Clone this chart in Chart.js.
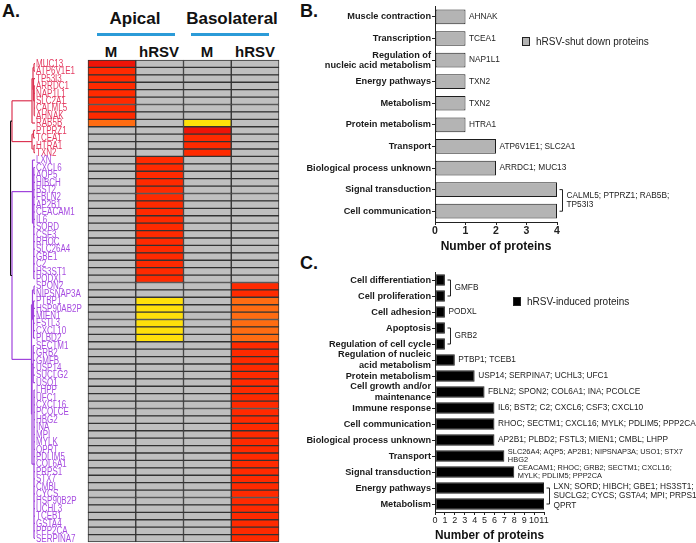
<!DOCTYPE html>
<html>
<head>
<meta charset="utf-8">
<script src="https://cdn.jsdelivr.net/npm/chart.js@4.4.1/dist/chart.umd.min.js"></script>
<style>
  html, body { margin: 0; padding: 0; background: #fff; }
  body { width: 696px; height: 543px; position: relative; overflow: hidden;
         font-family: 'Liberation Sans', Arial, sans-serif; color: #111; }
  .panel { position: absolute; font-weight: bold; font-size: 18px; line-height: 20px; }
  .head { position: absolute; font-weight: bold; text-align: center; white-space: nowrap; }
  .rule { position: absolute; height: 3px; background: #2b9bd8; }
  .key { position: absolute; width: 8px; height: 9px; box-sizing: border-box; border: 1px solid #222; }
  .keytext { position: absolute; font-size: 10px; line-height: 12px; white-space: nowrap; color: #222; }
  canvas { position: absolute; display: block; }
</style>
</head>
<body>
<div class="panel" style="left:2px;top:1px;">A.</div>
<div class="panel" style="left:300px;top:1px;">B.</div>
<div class="panel" style="left:300px;top:253px;">C.</div>

<div class="head" style="left:85px;top:9px;width:100px;font-size:17px;line-height:20px;">Apical</div>
<div class="head" style="left:172px;top:9px;width:120px;font-size:17px;line-height:20px;">Basolateral</div>
<div class="rule" style="left:97px;top:33px;width:78px;"></div>
<div class="rule" style="left:191px;top:33px;width:78px;"></div>
<div class="head" style="left:87px;top:43px;width:48px;font-size:15px;line-height:18px;">M</div>
<div class="head" style="left:135px;top:43px;width:48px;font-size:15px;line-height:18px;">hRSV</div>
<div class="head" style="left:183px;top:43px;width:48px;font-size:15px;line-height:18px;">M</div>
<div class="head" style="left:231px;top:43px;width:48px;font-size:15px;line-height:18px;">hRSV</div>

<canvas id="dendro" width="25" height="484" style="left:10px;top:59px;"></canvas>
<canvas id="heat" width="244" height="484" style="left:36px;top:59px;"></canvas>
<canvas id="shut" width="396" height="256" style="left:300px;top:0px;"></canvas>
<canvas id="induced" width="396" height="285" style="left:300px;top:258px;"></canvas>

<div class="key" style="left:522px;top:37px;background:#b4b4b4;"></div>
<div class="keytext" style="left:536px;top:36px;">hRSV-shut down proteins</div>
<div class="key" style="left:513px;top:297px;background:#000;"></div>
<div class="keytext" style="left:527px;top:296px;">hRSV-induced proteins</div>

<script>
'use strict';

/* ── Panel A data ───────────────────────────────────── */
const GENES = [
  'MUC13', 'ATP6V1E1', 'TP53I3', 'ARRDC1', 'NAP1L1', 'SLC2A1', 'CALML5', 'AHNAK', 'RAB5B',
  'PTPRZ1', 'TCEA1', 'HTRA1', 'TXN2',
  'LXN', 'CXCL6', 'AQP5', 'HIBCH', 'BST2', 'FBLN2', 'AP2B1', 'CEACAM1', 'IL6', 'SORD', 'CSF3',
  'RHOC', 'SLC26A4', 'GBE1', 'C2', 'HS3ST1', 'PODXL',
  'SPON2', 'NIPSNAP3A',
  'PTBP1', 'HSP90AB2P', 'MIEN1', 'FSTL3', 'CXCL10', 'PLBD2',
  'SECTM1', 'GRB2', 'GMFB', 'USP14', 'SUCLG2', 'USO1', 'LHPP', 'UFC1', 'CXCL16', 'PCOLCE',
  'HBG2', 'INA', 'MPI', 'MYLK', 'QPRT', 'PDLIM5', 'COL6A1', 'PRPS1', 'STX7', 'CMBL', 'CYCS',
  'HSP90B2P', 'UCHL3', 'TCEB1', 'GSTA4', 'PPP2CA', 'SERPINA7'
];
const CONDITIONS = ['Apical M', 'Apical hRSV', 'Basolateral M', 'Basolateral hRSV'];

// level per gene: 0 not detected, 1 low, 2 mid, 3 high, 4 highest
const APICAL_M = [
  4, 3, 3, 3, 3, 3, 3, 3, 2,
  0, 0, 0, 0,
  0, 0, 0, 0, 0, 0, 0, 0, 0, 0, 0, 0, 0, 0, 0, 0, 0,
  0, 0,
  0, 0, 0, 0, 0, 0,
  0, 0, 0, 0, 0, 0, 0, 0, 0, 0, 0, 0, 0, 0, 0, 0, 0, 0, 0, 0, 0, 0, 0, 0, 0, 0, 0
];
const APICAL_HRSV = [
  0, 0, 0, 0, 0, 0, 0, 0, 0,
  0, 0, 0, 0,
  3, 3, 3, 3, 3, 3, 3, 3, 3, 3, 3, 3, 3, 3, 3, 3, 3,
  0, 0,
  1, 1, 1, 1, 1, 1,
  0, 0, 0, 0, 0, 0, 0, 0, 0, 0, 0, 0, 0, 0, 0, 0, 0, 0, 0, 0, 0, 0, 0, 0, 0, 0, 0
];
const BASO_M = [
  0, 0, 0, 0, 0, 0, 0, 0, 1,
  4, 3, 3, 3,
  0, 0, 0, 0, 0, 0, 0, 0, 0, 0, 0, 0, 0, 0, 0, 0, 0,
  0, 0,
  0, 0, 0, 0, 0, 0,
  0, 0, 0, 0, 0, 0, 0, 0, 0, 0, 0, 0, 0, 0, 0, 0, 0, 0, 0, 0, 0, 0, 0, 0, 0, 0, 0
];
const BASO_HRSV = [
  0, 0, 0, 0, 0, 0, 0, 0, 0,
  0, 0, 0, 0,
  0, 0, 0, 0, 0, 0, 0, 0, 0, 0, 0, 0, 0, 0, 0, 0, 0,
  3, 3,
  2, 2, 2, 2, 2, 2,
  3, 3, 3, 3, 3, 3, 3, 3, 3, 3, 3, 3, 3, 3, 3, 3, 3, 3, 3, 3, 3, 3, 3, 3, 3, 3, 3
];

// dendrogram: h = merge distance, k = children (numbers are gene rows)
const RED_CLUSTER = { h: 23, k: [
  { h: 3, k: [
    { h: 2, k: [ { h: 1, k: [0, 1] }, { h: 1.5, k: [2, { h: 0.8, k: [3, 4, 5, 6, 7] }] } ] },
    8 ] },
  { h: 3, k: [ { h: 1.5, k: [9, 10] }, { h: 1, k: [11, 12] } ] }
] };
const PURPLE_CLUSTER = { h: 23, k: [
  { h: 2.5, k: [13, { h: 1.2, k: [14, 15, 16, 17, 18, 19, 20, 21, 22, 23, 24, 25, 26, 27, 28, 29] }] },
  { h: 3.5, k: [
    { h: 2.5, k: [ { h: 1, k: [30, 31] }, { h: 1.5, k: [32, 33, 34, 35, 36, 37] } ] },
    { h: 3, k: [
      { h: 1.8, k: [38, 39, 40, 41, 42, 43] },
      { h: 1, k: [44, 45, 46, 47, 48, 49, 50, 51, 52, 53, 54, 55, 56, 57, 58, 59, 60, 61, 62, 63, 64] }
    ] }
  ] }
] };
const DENDRO = { h: 24.5, k: [RED_CLUSTER, PURPLE_CLUSTER] };

/* ── Panel B / C data ───────────────────────────────── */
const SHUTDOWN_CATS = [
  'Muscle contraction', 'Transcription', ['Regulation of', 'nucleic acid metabolism'],
  'Energy pathways', 'Metabolism', 'Protein metabolism', 'Transport',
  'Biological process unknown', 'Signal transduction', 'Cell communication'
];
const SHUTDOWN_COUNTS = [1, 1, 1, 1, 1, 1, 2, 2, 4, 4];
const SHUTDOWN_GENES = [
  { rows: [0], text: ['AHNAK'] },
  { rows: [1], text: ['TCEA1'] },
  { rows: [2], text: ['NAP1L1'] },
  { rows: [3], text: ['TXN2'] },
  { rows: [4], text: ['TXN2'] },
  { rows: [5], text: ['HTRA1'] },
  { rows: [6], text: ['ATP6V1E1; SLC2A1'] },
  { rows: [7], text: ['ARRDC1; MUC13'] },
  { rows: [8, 9], text: ['CALML5; PTPRZ1; RAB5B;', 'TP53I3'] }
];

const INDUCED_CATS = [
  'Cell differentiation', 'Cell proliferation', 'Cell adhesion', 'Apoptosis',
  'Regulation of cell cycle', ['Regulation of nucleic', 'acid metabolism'], 'Protein metabolism',
  ['Cell growth and/or', 'maintenance'], 'Immune response', 'Cell communication',
  'Biological process unknown', 'Transport', 'Signal transduction', 'Energy pathways', 'Metabolism'
];
const INDUCED_COUNTS = [1, 1, 1, 1, 1, 2, 4, 5, 6, 6, 6, 7, 8, 11, 11];
const INDUCED_GENES = [
  { rows: [0, 1], text: ['GMFB'] },
  { rows: [2], text: ['PODXL'] },
  { rows: [3, 4], text: ['GRB2'] },
  { rows: [5], text: ['PTBP1; TCEB1'] },
  { rows: [6], text: ['USP14; SERPINA7; UCHL3; UFC1'] },
  { rows: [7], text: ['FBLN2; SPON2; COL6A1; INA; PCOLCE'] },
  { rows: [8], text: ['IL6; BST2; C2; CXCL6; CSF3; CXCL10'] },
  { rows: [9], text: ['RHOC; SECTM1; CXCL16; MYLK; PDLIM5; PPP2CA'] },
  { rows: [10], text: ['AP2B1; PLBD2; FSTL3; MIEN1; CMBL; LHPP'] },
  { rows: [11], text: ['SLC26A4; AQP5; AP2B1; NIPSNAP3A; USO1; STX7', 'HBG2'] },
  { rows: [12], text: ['CEACAM1; RHOC; GRB2; SECTM1; CXCL16;', 'MYLK; PDLIM5; PPP2CA'] },
  { rows: [13, 14], text: ['LXN; SORD; HIBCH; GBE1; HS3ST1;', 'SUCLG2; CYCS; GSTA4; MPI; PRPS1;', 'QPRT'] }
];

/* ── Styles ─────────────────────────────────────────── */
const FONT = "'Liberation Sans', Arial, sans-serif";
const LEVEL_COLORS = ['#bfbfbf', '#ffe00a', '#ff6c12', '#ff2a00', '#ee1408'];
const CLUSTER_COLORS = ['#dc3553', '#a044dc'];
const LABEL_COLORS = ['#e43a60', '#a64be0'];

Chart.defaults.font.family = FONT;
Chart.defaults.color = '#1a1a1a';
Chart.defaults.animation = false;

/* ── Dendrogram ─────────────────────────────────────── */
const isLeaf = n => typeof n === 'number';
const nodeY = n => isLeaf(n) ? n : n.k.map(nodeY).reduce((a, b) => a + b, 0) / n.k.length;
const nodeH = n => isLeaf(n) ? 0 : n.h;
const leaves = n => isLeaf(n) ? [n] : n.k.flatMap(leaves);

function collectSegments(node, color, out) {
  if (isLeaf(node)) return out;
  const ys = node.k.map(nodeY);
  out.push({ color, pts: [{ x: node.h, y: Math.min(...ys) }, { x: node.h, y: Math.max(...ys) }] });
  node.k.forEach((c, i) => {
    out.push({ color, pts: [{ x: nodeH(c), y: ys[i] }, { x: node.h, y: ys[i] }] });
    collectSegments(c, color, out);
  });
  return out;
}

const segs = [];
const rootYs = DENDRO.k.map(nodeY);
segs.push({ color: '#111', pts: [{ x: DENDRO.h, y: Math.min(...rootYs) }, { x: DENDRO.h, y: Math.max(...rootYs) }] });
DENDRO.k.forEach((c, i) => {
  segs.push({ color: '#111', pts: [{ x: c.h, y: rootYs[i] }, { x: DENDRO.h, y: rootYs[i] }] });
  collectSegments(c, CLUSTER_COLORS[i], segs);
});

new Chart(document.getElementById('dendro'), {
  type: 'scatter',
  data: {
    datasets: segs.map(s => ({
      data: s.pts, showLine: true, borderColor: s.color, borderWidth: 1.2,
      pointRadius: 0, clip: false
    }))
  },
  options: {
    responsive: false,
    layout: { padding: { top: 1, bottom: 1 } },
    plugins: { legend: { display: false }, tooltip: { enabled: false } },
    scales: {
      x: { display: false, min: 0, max: 25, reverse: true },
      y: { display: false, min: -0.5, max: GENES.length - 0.5, reverse: true }
    }
  }
});

/* ── Heatmap ────────────────────────────────────────── */
const redRows = new Set(leaves(DENDRO.k[0]));
const COLUMNS = [APICAL_M, APICAL_HRSV, BASO_M, BASO_HRSV];

// gene names in a condensed face, placed on the category axis
const geneLabels = {
  id: 'geneLabels',
  afterDraw(chart) {
    const { ctx, scales: { y } } = chart;
    ctx.save();
    ctx.font = '10px ' + FONT;
    ctx.textAlign = 'left';
    ctx.textBaseline = 'middle';
    chart.data.labels.forEach((g, i) => {
      ctx.save();
      ctx.fillStyle = LABEL_COLORS[redRows.has(i) ? 0 : 1];
      ctx.translate(y.left, y.getPixelForValue(i) + 0.5);
      ctx.scale(0.8, 1);
      ctx.fillText(g, 0, 0);
      ctx.restore();
    });
    ctx.restore();
  }
};

new Chart(document.getElementById('heat'), {
  type: 'bar',
  data: {
    labels: GENES,
    datasets: COLUMNS.map((col, c) => ({
      label: CONDITIONS[c],
      data: col.map(() => [c, c + 1]),
      backgroundColor: col.map(v => LEVEL_COLORS[v]),
      borderColor: '#333', borderWidth: 1, borderSkipped: false,
      barPercentage: 1, categoryPercentage: 1, grouped: false, clip: false
    }))
  },
  options: {
    indexAxis: 'y', responsive: false,
    layout: { padding: { top: 1, right: 1, bottom: 1 } },
    plugins: { legend: { display: false }, tooltip: { enabled: false } },
    scales: {
      x: { display: false, min: 0, max: 4 },
      y: {
        grid: { display: false }, border: { display: false },
        ticks: { display: false },
        afterFit: s => { s.width = 52; }
      }
    }
  },
  plugins: [geneLabels]
});

/* ── Gene-name annotations next to bars ─────────────── */
const geneNotes = {
  id: 'geneNotes',
  afterDatasetsDraw(chart, args, opts) {
    const { ctx, scales: { x, y } } = chart;
    const vals = chart.data.datasets[0].data;
    ctx.save();
    ctx.fillStyle = '#222';
    ctx.strokeStyle = '#222';
    ctx.lineWidth = 1;
    ctx.textAlign = 'left';
    ctx.textBaseline = 'middle';
    opts.notes.forEach(n => {
      const ys = n.rows.map(r => y.getPixelForValue(r));
      const end = Math.max(...n.rows.map(r => x.getPixelForValue(vals[r])));
      let tx = end + opts.gap;
      if (n.rows.length > 1) {
        const bx = Math.round(end + opts.bracketGap) + 0.5;
        ctx.beginPath();
        ctx.moveTo(bx - 3, ys[0]); ctx.lineTo(bx, ys[0]);
        ctx.lineTo(bx, ys[ys.length - 1]); ctx.lineTo(bx - 3, ys[ys.length - 1]);
        ctx.stroke();
        tx = bx + 4;
      }
      const small = n.text.length === 2 && n.rows.length === 1;
      const size = small ? opts.smallSize : opts.size;
      const lh = size * 1.15;
      ctx.font = size + 'px ' + FONT;
      const mid = (ys[0] + ys[ys.length - 1]) / 2;
      n.text.forEach((t, i) => ctx.fillText(t, tx, mid + (i - (n.text.length - 1) / 2) * lh));
    });
    ctx.restore();
  }
};

function barPanel(id, cats, counts, notes, o) {
  new Chart(document.getElementById(id), {
    type: 'bar',
    data: {
      labels: cats,
      datasets: [{
        data: counts,
        backgroundColor: o.fill, borderColor: '#1e1e1e', borderWidth: 1, borderSkipped: false,
        barPercentage: o.barPct, categoryPercentage: 1
      }]
    },
    options: {
      indexAxis: 'y', responsive: false,
      layout: { padding: o.padding },
      plugins: {
        legend: { display: false }, tooltip: { enabled: false },
        geneNotes: { notes, gap: 3.5, bracketGap: 5, size: 8.3, smallSize: 7.4 }
      },
      scales: {
        x: {
          min: 0, max: o.max,
          grid: { drawOnChartArea: false, tickLength: 3, color: '#222' },
          border: { display: true, color: '#222', width: 1 },
          ticks: { stepSize: 1, padding: 0, autoSkip: false, maxRotation: 0, minRotation: 0,
                   color: '#222', font: { size: o.tickSize, weight: o.tickWeight } },
          title: { display: true, text: 'Number of proteins', color: '#111',
                   font: { size: 12, weight: 'bold' }, padding: { top: 0, bottom: o.titlePad } },
          afterFit: s => { s.height = o.xHeight; }
        },
        y: {
          grid: { drawOnChartArea: false, offset: false, tickLength: 3, color: '#222' },
          border: { display: true, color: '#222', width: 1 },
          ticks: { autoSkip: false, padding: 1, color: '#1a1a1a',
                   font: { size: 9.2, weight: 'bold', lineHeight: 1.12 } },
          afterFit: s => { s.width = 135; }
        }
      }
    },
    plugins: [geneNotes]
  });
}

barPanel('shut', SHUTDOWN_CATS, SHUTDOWN_COUNTS, SHUTDOWN_GENES, {
  fill: '#b4b4b4', barPct: 0.68, max: 4, tickSize: 10.5, tickWeight: 'bold',
  padding: { top: 2, right: 139 }, xHeight: 34, titlePad: 2
});
barPanel('induced', INDUCED_CATS, INDUCED_COUNTS, INDUCED_GENES, {
  fill: '#000', barPct: 0.72, max: 11, tickSize: 9, tickWeight: 'normal',
  padding: { top: 14, right: 152 }, xHeight: 31, titlePad: 0
});
</script>
</body>
</html>
